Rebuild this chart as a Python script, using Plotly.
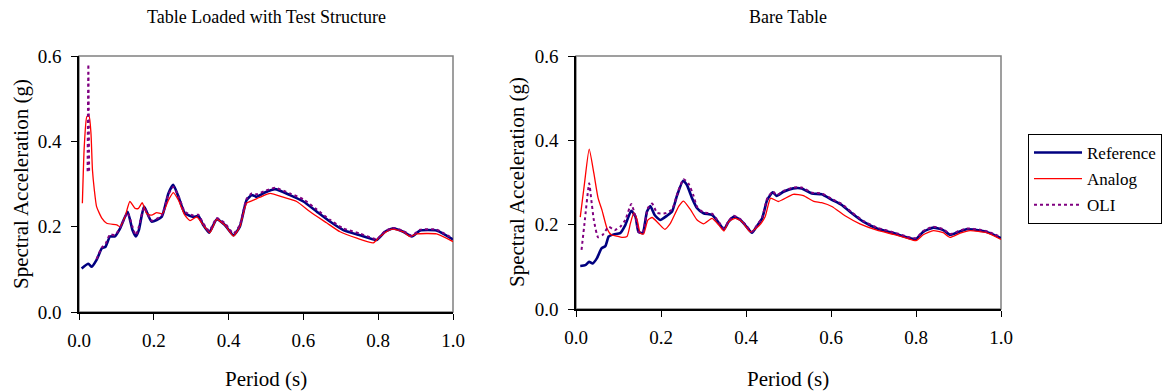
import plotly.graph_objects as go

# ---------------- data ----------------
ref_L_x = [0.007,0.025,0.034,0.047,0.061,0.071,0.083,0.096,0.110,0.130,0.143,0.152,0.160,0.174,0.194,0.221,0.239,0.252,0.266,0.283,0.306,0.319,0.332,0.348,0.368,0.390,0.413,0.430,0.448,0.462,0.475,0.497,0.524,0.564,0.600,0.636,0.671,0.707,0.751,0.796,0.818,0.840,0.867,0.890,0.912,0.956,1.0]
ref_L_y = [0.102,0.113,0.106,0.122,0.149,0.153,0.177,0.177,0.196,0.235,0.192,0.177,0.192,0.247,0.212,0.223,0.278,0.298,0.270,0.231,0.223,0.225,0.204,0.186,0.217,0.204,0.180,0.200,0.262,0.274,0.270,0.280,0.288,0.274,0.259,0.235,0.212,0.192,0.180,0.169,0.188,0.196,0.188,0.177,0.191,0.191,0.170]

ana_L_x = [0.009,0.014,0.021,0.027,0.032,0.036,0.041,0.047,0.061,0.074,0.101,0.110,0.123,0.136,0.150,0.159,0.169,0.181,0.194,0.208,0.223,0.239,0.252,0.266,0.283,0.297,0.315,0.332,0.350,0.368,0.390,0.413,0.430,0.448,0.466,0.484,0.511,0.546,0.582,0.618,0.662,0.698,0.743,0.787,0.805,0.836,0.867,0.885,0.903,0.956,1.0]
ana_L_y = [0.255,0.387,0.458,0.459,0.419,0.333,0.286,0.247,0.220,0.208,0.204,0.200,0.223,0.259,0.243,0.243,0.256,0.231,0.227,0.233,0.230,0.262,0.280,0.262,0.227,0.214,0.223,0.204,0.186,0.217,0.204,0.178,0.200,0.255,0.262,0.269,0.278,0.269,0.259,0.235,0.209,0.188,0.173,0.162,0.177,0.194,0.188,0.177,0.183,0.183,0.165]

oli_L_x = [0.023,0.025,0.027,0.035,0.047,0.061,0.071,0.083,0.096,0.110,0.130,0.143,0.152,0.160,0.174,0.194,0.221,0.239,0.252,0.266,0.283,0.306,0.319,0.332,0.348,0.368,0.390,0.413,0.430,0.448,0.462,0.475,0.497,0.524,0.564,0.600,0.636,0.671,0.707,0.751,0.796,0.818,0.840,0.867,0.890,0.912,0.956,1.0]
oli_L_y = [0.33,0.58,0.33,None,0.124,0.151,0.160,0.182,0.180,0.198,0.232,0.200,0.180,0.200,0.245,0.214,0.226,0.275,0.293,0.272,0.235,0.226,0.228,0.208,0.190,0.220,0.208,0.184,0.204,0.265,0.278,0.276,0.284,0.291,0.278,0.264,0.240,0.216,0.196,0.184,0.171,0.189,0.197,0.190,0.179,0.193,0.193,0.172]

ref_R_x = [0.010,0.022,0.031,0.039,0.049,0.060,0.069,0.077,0.089,0.104,0.116,0.130,0.140,0.147,0.157,0.167,0.175,0.185,0.198,0.214,0.226,0.238,0.252,0.261,0.273,0.285,0.300,0.320,0.334,0.348,0.359,0.371,0.387,0.398,0.414,0.426,0.438,0.450,0.463,0.472,0.488,0.511,0.531,0.555,0.578,0.602,0.625,0.649,0.676,0.708,0.747,0.778,0.800,0.817,0.841,0.864,0.880,0.896,0.919,0.951,0.974,1.0]
ref_R_y = [0.102,0.104,0.112,0.108,0.120,0.144,0.149,0.172,0.177,0.180,0.199,0.233,0.219,0.183,0.180,0.231,0.244,0.223,0.211,0.221,0.231,0.270,0.304,0.294,0.263,0.239,0.227,0.223,0.207,0.189,0.207,0.219,0.211,0.199,0.181,0.197,0.215,0.259,0.277,0.268,0.278,0.286,0.286,0.274,0.272,0.259,0.247,0.227,0.207,0.191,0.180,0.170,0.166,0.183,0.193,0.187,0.176,0.181,0.189,0.186,0.180,0.168]

ana_R_x = [0.010,0.020,0.031,0.042,0.052,0.061,0.073,0.083,0.096,0.108,0.120,0.128,0.136,0.144,0.151,0.159,0.169,0.179,0.195,0.209,0.222,0.242,0.253,0.269,0.285,0.300,0.320,0.336,0.348,0.359,0.375,0.391,0.410,0.430,0.445,0.458,0.476,0.511,0.535,0.558,0.578,0.602,0.633,0.668,0.708,0.747,0.778,0.800,0.817,0.841,0.864,0.880,0.904,0.927,0.966,1.0]
ana_R_y = [0.218,0.298,0.379,0.322,0.263,0.235,0.191,0.176,0.173,0.170,0.172,0.203,0.228,0.211,0.180,0.178,0.211,0.217,0.202,0.189,0.203,0.244,0.256,0.236,0.211,0.202,0.215,0.199,0.185,0.207,0.215,0.207,0.183,0.197,0.219,0.263,0.255,0.272,0.269,0.256,0.252,0.243,0.221,0.202,0.187,0.177,0.168,0.162,0.176,0.186,0.181,0.170,0.180,0.186,0.181,0.165]

oli_R_x = [0.013,0.020,0.031,0.036,0.042,0.052,0.063,0.077,0.091,0.104,0.116,0.130,0.140,0.147,0.157,0.169,0.179,0.191,0.210,0.226,0.240,0.253,0.265,0.276,0.285,0.300,0.320,0.334,0.348,0.359,0.371,0.387,0.398,0.414,0.426,0.438,0.450,0.463,0.472,0.488,0.511,0.531,0.555,0.578,0.602,0.625,0.649,0.676,0.708,0.747,0.778,0.800,0.817,0.841,0.864,0.880,0.896,0.919,0.951,0.974,1.0]
oli_R_y = [0.140,0.203,0.298,0.259,0.211,0.170,0.176,0.195,0.187,0.195,0.211,0.249,0.219,0.183,0.181,0.239,0.250,0.228,0.227,0.236,0.278,0.308,0.297,0.270,0.242,0.229,0.226,0.209,0.191,0.209,0.221,0.213,0.201,0.183,0.199,0.217,0.262,0.279,0.270,0.280,0.288,0.288,0.276,0.274,0.261,0.249,0.229,0.209,0.193,0.182,0.172,0.168,0.185,0.195,0.189,0.178,0.183,0.191,0.188,0.182,0.170]

titles = ["Table Loaded with Test Structure", "Bare Table"]
series_names = ["Reference", "Analog", "OLI"]
x_ticks = [0.0, 0.2, 0.4, 0.6, 0.8, 1.0]
y_ticks = [0.0, 0.2, 0.4, 0.6]

# ---------------- styling ----------------
FONT = "Liberation Serif"
OFF = 8                      # page body margin of the browser
W, H = 1170 - OFF, 392 - OFF
NAVY, RED, PURPLE = "#000080", "#FF0000", "#800080"

def px_x(p): return (p - OFF) / W
def px_y(p): return 1 - (p - OFF) / H

fig = go.Figure()

styles = {
    "Reference": dict(color=NAVY, width=2.6, dash="solid"),
    "Analog": dict(color=RED, width=1.3, dash="solid"),
    "OLI": dict(color=PURPLE, width=2, dash="dot"),
}
panels = [
    ("x", "y", ref_L_x, ref_L_y, ana_L_x, ana_L_y, oli_L_x, oli_L_y, True),
    ("x2", "y2", ref_R_x, ref_R_y, ana_R_x, ana_R_y, oli_R_x, oli_R_y, False),
]
for xa, ya, rx, ry, ax, ay, ox, oy, show in panels:
    for name, xs, ys in [(series_names[0], rx, ry), (series_names[1], ax, ay), (series_names[2], ox, oy)]:
        fig.add_trace(go.Scatter(
            x=xs, y=ys, name=name, mode="lines", xaxis=xa, yaxis=ya,
            line=dict(shape="spline", smoothing=0.5, **styles[name]),
            connectgaps=False, legendgroup=name, showlegend=show,
        ))

axis_common = dict(
    showgrid=False, zeroline=False, showline=True, linecolor="black", linewidth=1.5,
    ticks="outside", ticklen=6, tickwidth=1.2, tickcolor="black",
    tickfont=dict(family=FONT, size=19, color="black"), tickformat=".1f",
    fixedrange=True, automargin=False,
)

fig.update_layout(
    width=W, height=H, margin=dict(l=0, r=0, t=0, b=0, pad=0),
    paper_bgcolor="white", plot_bgcolor="white",
    font=dict(family=FONT, size=18, color="black"),
    xaxis=dict(domain=[px_x(79), px_x(453)], range=[0, 1], tickvals=x_ticks, anchor="y", ticklabelstandoff=4, **axis_common),
    yaxis=dict(domain=[px_y(312), px_y(56)], range=[0, 0.6], tickvals=y_ticks, anchor="x", ticklabelstandoff=6, **axis_common),
    xaxis2=dict(domain=[px_x(576), px_x(1001)], range=[0, 1], tickvals=x_ticks, anchor="y2", ticklabelstandoff=4, **axis_common),
    yaxis2=dict(domain=[px_y(309), px_y(56)], range=[0, 0.6], tickvals=y_ticks, anchor="x2", ticklabelstandoff=6, **axis_common),
    legend=dict(
        x=px_x(1028), y=px_y(134), xanchor="left", yanchor="top",
        bordercolor="black", borderwidth=1, bgcolor="white",
        font=dict(family=FONT, size=17, color="black"),
        traceorder="grouped", tracegroupgap=1, itemwidth=48,
    ),
    showlegend=True,
)

# gray frame (top/right borders)
for xa, ya in [("x", "y"), ("x2", "y2")]:
    fig.add_shape(type="rect", xref=f"{xa} domain", yref=f"{ya} domain",
                  x0=0, x1=1, y0=0, y1=1, line=dict(color="#808080", width=1.5), layer="below")

# titles and axis titles as annotations
annots = [
    (titles[0], px_x(266), px_y(17), 0, 18),
    (titles[1], px_x(788), px_y(17), 0, 18),
    ("Period (s)", px_x(266), px_y(379), 0, 21),
    ("Period (s)", px_x(788), px_y(379), 0, 21),
    ("Spectral Acceleration (g)", px_x(21), px_y(184), -90, 21),
    ("Spectral Acceleration (g)", px_x(517), px_y(182), -90, 21),
]
for text, x, y, ang, fs in annots:
    fig.add_annotation(text=text, x=x, y=y, xref="paper", yref="paper",
                       xanchor="center", yanchor="middle", showarrow=False,
                       textangle=ang, font=dict(family=FONT, size=fs, color="black"))

fig.write_html("out.html")
